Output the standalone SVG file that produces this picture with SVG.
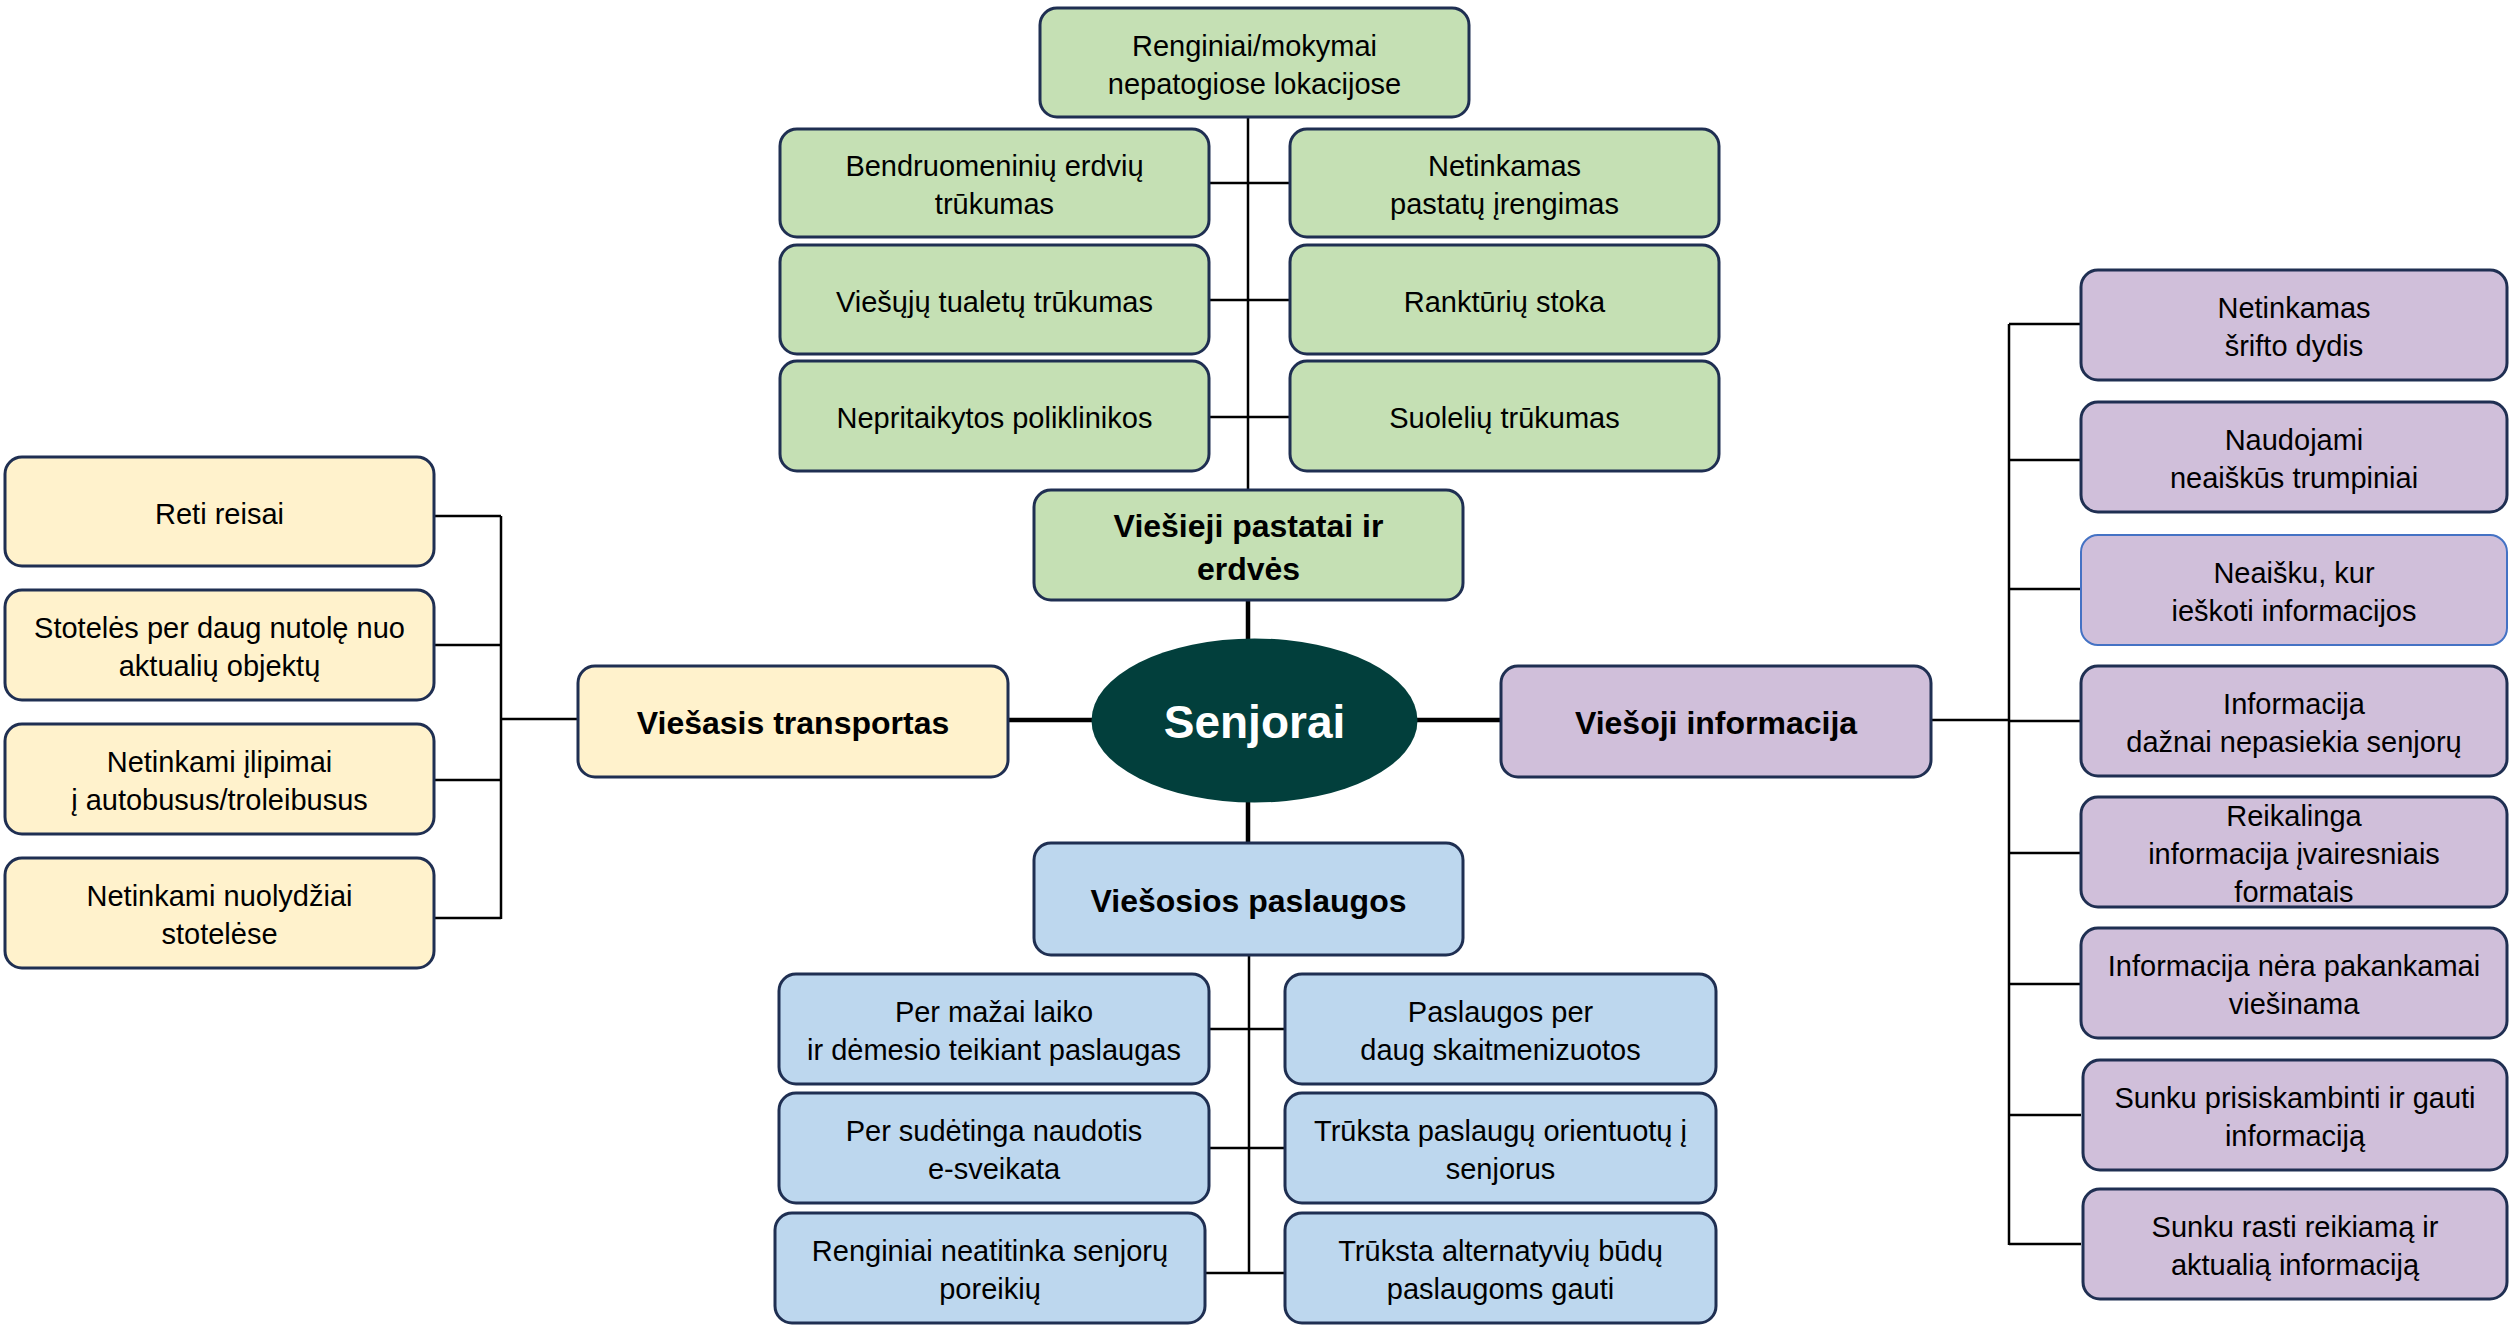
<svg xmlns="http://www.w3.org/2000/svg" width="2509" height="1325" viewBox="0 0 2509 1325">
<style>
.box{stroke:#1f2f52;stroke-width:3}
.g{fill:#c5e0b4}.y{fill:#fff2cc}.p{fill:#d0bfda}.b{fill:#bdd7ee}
.t{font-family:"Liberation Sans",Arial,sans-serif;font-size:29px;fill:#000;text-anchor:middle}
.tb{font-family:"Liberation Sans",Arial,sans-serif;font-size:32px;font-weight:bold;fill:#000;text-anchor:middle}
.thin{stroke:#000;stroke-width:2.5;fill:none}
.thick{stroke:#000;stroke-width:4.5;fill:none}
</style>
<rect width="2509" height="1325" fill="#fff"/>
<g id="connectors">
<path class="thick" d="M1248 600V640M1248 802V843M1008 720H1092M1417 720H1501"/>
<path class="thin" d="M1248 117V490M1209 183H1290M1209 300H1290M1209 417H1290"/>
<path class="thin" d="M1249 955V1274M1209 1029H1285M1209 1148H1285M1205 1273H1285"/>
<path class="thin" d="M501 516V919M434 516H501M434 645H501M434 780H501M434 918H501M501 719H578"/>
<path class="thin" d="M2009 324V1245M2009 324H2081M2009 460H2081M2009 589H2081M2009 721H2081M2009 853H2081M2009 984H2081M2009 1115H2081M2009 1244H2081M1931 720H2009"/>
</g>
<g id="center">
<ellipse cx="1254.5" cy="720.5" rx="163" ry="82" fill="#023f3c"/>
<text x="1254.5" y="738" font-family="Liberation Sans,Arial,sans-serif" font-size="46" font-weight="bold" fill="#fff" text-anchor="middle">Senjorai</text>
</g>
<g id="cat-viesieji-pastatai"><rect class="box g" x="1034" y="490" width="429" height="110" rx="17"/><text class="tb" x="1248.5" y="537">Viešieji pastatai ir<tspan x="1248.5" dy="43">erdvės</tspan></text></g>
<g id="g0"><rect class="box g" x="1040" y="8" width="429" height="109" rx="17"/><text class="t" x="1254.5" y="55.5">Renginiai/mokymai<tspan x="1254.5" dy="38">nepatogiose lokacijose</tspan></text></g>
<g id="g1"><rect class="box g" x="780" y="129" width="429" height="108" rx="17"/><text class="t" x="994.5" y="176">Bendruomeninių erdvių<tspan x="994.5" dy="38">trūkumas</tspan></text></g>
<g id="g2"><rect class="box g" x="1290" y="129" width="429" height="108" rx="17"/><text class="t" x="1504.5" y="176">Netinkamas<tspan x="1504.5" dy="38">pastatų įrengimas</tspan></text></g>
<g id="g3"><rect class="box g" x="780" y="245" width="429" height="109" rx="17"/><text class="t" x="994.5" y="312">Viešųjų tualetų trūkumas</text></g>
<g id="g4"><rect class="box g" x="1290" y="245" width="429" height="109" rx="17"/><text class="t" x="1504.5" y="312">Ranktūrių stoka</text></g>
<g id="g5"><rect class="box g" x="780" y="361" width="429" height="110" rx="17"/><text class="t" x="994.5" y="428">Nepritaikytos poliklinikos</text></g>
<g id="g6"><rect class="box g" x="1290" y="361" width="429" height="110" rx="17"/><text class="t" x="1504.5" y="428">Suolelių trūkumas</text></g>
<g id="cat-viesasis-transportas"><rect class="box y" x="578" y="666" width="430" height="111" rx="17"/><text class="tb" x="793" y="734">Viešasis transportas</text></g>
<g id="y1"><rect class="box y" x="5" y="457" width="429" height="109" rx="17"/><text class="t" x="219.5" y="524">Reti reisai</text></g>
<g id="y2"><rect class="box y" x="5" y="590" width="429" height="110" rx="17"/><text class="t" x="219.5" y="638">Stotelės per daug nutolę nuo<tspan x="219.5" dy="38">aktualių objektų</tspan></text></g>
<g id="y3"><rect class="box y" x="5" y="724" width="429" height="110" rx="17"/><text class="t" x="219.5" y="772">Netinkami įlipimai<tspan x="219.5" dy="38">į autobusus/troleibusus</tspan></text></g>
<g id="y4"><rect class="box y" x="5" y="858" width="429" height="110" rx="17"/><text class="t" x="219.5" y="906">Netinkami nuolydžiai<tspan x="219.5" dy="38">stotelėse</tspan></text></g>
<g id="cat-viesoji-informacija"><rect class="box p" x="1501" y="666" width="430" height="111" rx="17"/><text class="tb" x="1716" y="734">Viešoji informacija</text></g>
<g id="p1"><rect class="box p" x="2081" y="270" width="426" height="110" rx="17"/><text class="t" x="2294" y="318">Netinkamas<tspan x="2294" dy="38">šrifto dydis</tspan></text></g>
<g id="p2"><rect class="box p" x="2081" y="402" width="426" height="110" rx="17"/><text class="t" x="2294" y="450">Naudojami<tspan x="2294" dy="38">neaiškūs trumpiniai</tspan></text></g>
<g id="p3"><rect class="p" x="2081" y="535" width="426" height="110" rx="17" stroke="#4472c4" stroke-width="2"/><text class="t" x="2294" y="583">Neaišku, kur<tspan x="2294" dy="38">ieškoti informacijos</tspan></text></g>
<g id="p4"><rect class="box p" x="2081" y="666" width="426" height="110" rx="17"/><text class="t" x="2294" y="714">Informacija<tspan x="2294" dy="38">dažnai nepasiekia senjorų</tspan></text></g>
<g id="p5"><rect class="box p" x="2081" y="797" width="426" height="110" rx="17"/><text class="t" x="2294" y="826">Reikalinga<tspan x="2294" dy="38">informacija įvairesniais</tspan><tspan x="2294" dy="38">formatais</tspan></text></g>
<g id="p6"><rect class="box p" x="2081" y="928" width="426" height="110" rx="17"/><text class="t" x="2294" y="976">Informacija nėra pakankamai<tspan x="2294" dy="38">viešinama</tspan></text></g>
<g id="p7"><rect class="box p" x="2083" y="1060" width="424" height="110" rx="17"/><text class="t" x="2295" y="1108">Sunku prisiskambinti ir gauti<tspan x="2295" dy="38">informaciją</tspan></text></g>
<g id="p8"><rect class="box p" x="2083" y="1189" width="424" height="110" rx="17"/><text class="t" x="2295" y="1237">Sunku rasti reikiamą ir<tspan x="2295" dy="38">aktualią informaciją</tspan></text></g>
<g id="cat-viesosios-paslaugos"><rect class="box b" x="1034" y="843" width="429" height="112" rx="17"/><text class="tb" x="1248.5" y="912">Viešosios paslaugos</text></g>
<g id="b1"><rect class="box b" x="779" y="974" width="430" height="110" rx="17"/><text class="t" x="994" y="1022">Per mažai laiko<tspan x="994" dy="38">ir dėmesio teikiant paslaugas</tspan></text></g>
<g id="b2"><rect class="box b" x="1285" y="974" width="431" height="110" rx="17"/><text class="t" x="1500.5" y="1022">Paslaugos per<tspan x="1500.5" dy="38">daug skaitmenizuotos</tspan></text></g>
<g id="b3"><rect class="box b" x="779" y="1093" width="430" height="110" rx="17"/><text class="t" x="994" y="1141">Per sudėtinga naudotis<tspan x="994" dy="38">e-sveikata</tspan></text></g>
<g id="b4"><rect class="box b" x="1285" y="1093" width="431" height="110" rx="17"/><text class="t" x="1500.5" y="1141">Trūksta paslaugų orientuotų į<tspan x="1500.5" dy="38">senjorus</tspan></text></g>
<g id="b5"><rect class="box b" x="775" y="1213" width="430" height="110" rx="17"/><text class="t" x="990" y="1261">Renginiai neatitinka senjorų<tspan x="990" dy="38">poreikių</tspan></text></g>
<g id="b6"><rect class="box b" x="1285" y="1213" width="431" height="110" rx="17"/><text class="t" x="1500.5" y="1261">Trūksta alternatyvių būdų<tspan x="1500.5" dy="38">paslaugoms gauti</tspan></text></g>
</svg>
